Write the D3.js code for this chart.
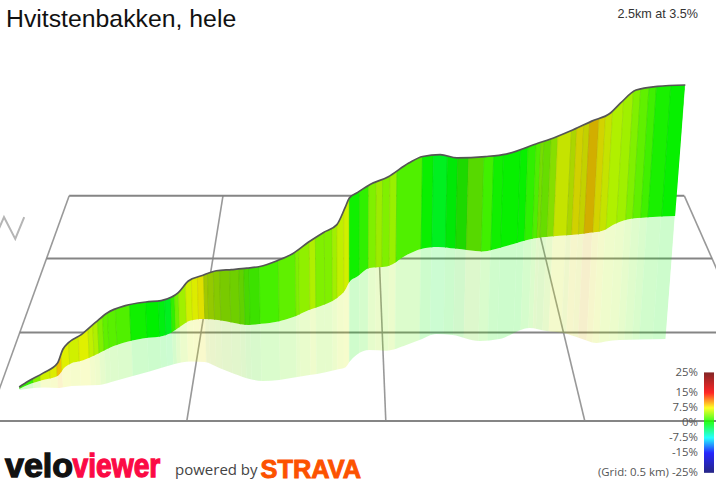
<!DOCTYPE html>
<html>
<head>
<meta charset="utf-8">
<title>Hvitstenbakken, hele</title>
<script src="https://cdn.jsdelivr.net/npm/d3@7"></script>
<style>
  html, body { margin: 0; padding: 0; background: #fff; }
  svg { display: block; }
</style>
</head>
<body>
<svg id="chart" width="716" height="480"></svg>
<script>
// Route stations: distance along the climb, ground position (km) and wall heights (m)
const distanceKm = [0,.039,.097,.155,.178,.201,.252,.310,.356,.426,.503,.561,.600,.627,.666,.716,.774,.832,.890,.940,1.006,1.064,1.122,1.180,1.231,1.262,1.277,1.304,1.355,1.420,1.498,1.548,1.614,1.676,1.780,1.858,1.974,2.039,2.101,2.167,2.233,2.268,2.322,2.399,2.5];
const routeEast = [-.847,-.823,-.784,-.745,-.730,-.715,-.682,-.643,-.614,-.570,-.520,-.483,-.457,-.440,-.413,-.378,-.336,-.294,-.253,-.219,-.175,-.136,-.096,-.057,-.023,-.002,.009,.028,.063,.109,.164,.201,.249,.293,.365,.420,.509,.554,.597,.640,.683,.709,.748,.803,.875];
const routeNorth = [.165,.173,.179,.176,.181,.187,.189,.192,.209,.237,.268,.294,.311,.320,.326,.323,.288,.254,.226,.215,.220,.234,.248,.263,.280,.291,.323,.364,.394,.390,.424,.454,.491,.485,.448,.460,.529,.510,.498,.466,.436,.445,.454,.457,.460];
const wallBase = [.6,2.5,4.8,7.9,12.0,14.0,15.9,19.7,21.7,22.6,21.7,20.1,21.2,23.1,26.5,28.0,31.0,33.0,34.5,36.4,37.4,38.7,41.7,43.6,46.2,50.1,52.1,51.1,54.1,55.5,59.9,60.7,58.4,57.9,59.6,61.4,60.4,63.6,65.6,69.9,74.7,77.5,80.3,81.5,82.1];
const wallTop = [1.9,4.7,9.2,15.8,23.8,27.5,32.2,39.8,44.0,45.7,44.8,43.0,43.5,45.5,52.4,56.1,62.9,67.1,70.8,73.0,76.2,79.2,85.2,90.1,93.5,103.4,106.7,106.2,109.1,114.4,120.6,122.3,120.3,118.7,122.8,123.4,124.7,130.6,136.4,144.9,152.8,158.7,166.6,168.8,169.5];

// Gradient bands: where each band ends (km) and its grade (%)
const bandEndKm = [.056,.084,.123,.151,.170,.201,.240,.279,.298,.317,.337,.356,.387,.441,.501,.550,.573,.596,.611,.627,.654,.677,.700,.724,.739,.762,.786,.824,.859,.878,.898,.937,1.010,1.074,1.087,1.126,1.149,1.183,1.213,1.231,1.257,1.277,1.315,1.350,1.378,1.401,1.428,1.454,1.548,1.589,1.641,1.679,1.719,1.775,1.812,1.849,1.912,1.939,1.969,1.986,1.997,2.023,2.047,2.096,2.115,2.140,2.161,2.194,2.217,2.242,2.280,2.314,2.340,2.370,2.397,2.449,2.5];
const bandGrade = [1.5,4,6.5,7,9,7,6.5,7,6,5.5,4,3,2.8,2.5,.5,0,-.5,-1,1.5,3.5,5,6.5,7,7.5,6,5.5,5,4.5,4,3.5,2.5,2,2.2,3,4,4.5,5.5,4,4,5,6,6.5,.5,1.5,4,5,4,4.8,2.5,.3,-1,-.2,1,3,2,.5,.2,.2,1.5,2.5,4,3.5,4.5,6.5,6,7.5,7,8.8,7.5,6.5,5.5,5,4,3,2,.8,.2];

// Ground grid (km) and the north marker lying on it
const gridEast = [-.9,-.4,.1,.6,1.1];
const gridNorth = [0,.5,1,1.5];
const northMarkEast = [-1.082,-1.082,-1.018,-1.018];
const northMarkNorth = [1.148,1.322,1.148,1.322];

// Colour key
const keyGrades = [25,15,7.5,0,-7.5,-15,-25];
const keyLabels = ["25%","15%","7.5%","0%","-7.5%","-15%","(Grid: 0.5 km) -25%"];
const rampGrades = [-25,-15,-7.5,0,7.5,15,25];
const rampColors = ["#000070","#0000ff","#00ffff","#00ff00","#ffff00","#ff0000","#700000"];

const svg = d3.select("#chart");
const gradeColor = d3.scaleLinear().domain(rampGrades).range(rampColors).clamp(true);

// Perspective camera: ground plane recedes towards a horizon above the page
const eastScale = d3.scaleLinear().domain([0, 1]).range([0, 398]);
const depth = north => 1 + .196 * north;
const groundX = (east, north) => 346 + eastScale(east) / depth(north);
const groundY = north => -570 + 991 / depth(north);
const heightScale = d3.scaleLinear().domain([0, 1]).range([0, 1.634]);
const poleLean = .000248;

// Lift a ground position by a height; poles lean outward from the image centre
function lift(east, north, metres) {
  const gx = groundX(east, north), gy = groundY(north);
  const h = heightScale(metres) / depth(north);
  return { x: gx + (gx - 350) * poleLean * h, y: gy - h };
}

const stations = distanceKm.map((km, i) => ({
  km,
  ground: lift(routeEast[i], routeNorth[i], 0),
  base: lift(routeEast[i], routeNorth[i], wallBase[i]),
  top: lift(routeEast[i], routeNorth[i], wallTop[i]),
  north: routeNorth[i]
}));

// Piecewise lookups along the route for the gradient bands
const along = accessor => d3.scaleLinear().domain(distanceKm).range(stations.map(accessor));
const gx = along(d => d.ground.x), gy = along(d => d.ground.y);
const bx = along(d => d.base.x), by = along(d => d.base.y);
const tx = along(d => d.top.x), ty = along(d => d.top.y);
const northAt = along(d => d.north);

const defs = svg.append("defs");
const ribbon = (lo, hi) => d3.area()
  .x0(d => d[lo].x).y0(d => d[lo].y)
  .x1(d => d[hi].x).y1(d => d[hi].y)
  .curve(d3.curveMonotoneX)(stations);
defs.append("clipPath").attr("id", "wallClip").append("path").attr("d", ribbon("base", "top"));
defs.append("clipPath").attr("id", "paleClip").append("path").attr("d", ribbon("ground", "base"));

// Ground grid
const gridG = svg.append("g").attr("fill", "none");
const rearNorth = d3.max(gridNorth);
gridEast.forEach(e => {
  gridG.append("line")
    .attr("x1", groundX(e, 0)).attr("y1", groundY(0))
    .attr("x2", groundX(e, rearNorth)).attr("y2", groundY(rearNorth))
    .attr("stroke", "#999").attr("stroke-width", 1.6);
});
gridNorth.forEach(n => {
  gridG.append("line")
    .attr("x1", groundX(gridEast[0], n)).attr("y1", groundY(n))
    .attr("x2", groundX(gridEast[gridEast.length - 1], n)).attr("y2", groundY(n))
    .attr("stroke", "#858585").attr("stroke-width", 2);
});
gridG.append("path")
  .attr("d", d3.line()(northMarkEast.map((e, i) => [groundX(e, northMarkNorth[i]), groundY(northMarkNorth[i])])))
  .attr("stroke", "#b5b5b5").attr("stroke-width", 2);

// Gradient bands, darker where the road turns back towards the viewer
const bands = bandEndKm.map((end, i) => {
  const start = i ? bandEndKm[i - 1] : 0;
  const slope = (northAt(end) - northAt(start)) / (end - start);
  const shade = .94 + .25 * Math.max(-.6, Math.min(0, slope));
  const c = d3.rgb(gradeColor(bandGrade[i]));
  return { start, end, fill: d3.rgb(c.r * shade, c.g * shade, c.b * shade).formatRgb() };
});

const bandPath = (d, x0, y0, x1, y1) => {
  const pad = 7;
  return d3.line()([
    [x0(d.start), y0(d.start) + pad], [x1(d.start), y1(d.start) - pad],
    [x1(d.end), y1(d.end) - pad], [x0(d.end), y0(d.end) + pad]
  ]) + "Z";
};

svg.append("g").attr("clip-path", "url(#paleClip)").attr("opacity", .2)
  .selectAll("path").data(bands).join("path")
  .attr("d", d => bandPath(d, gx, gy, bx, by))
  .attr("fill", d => d.fill).attr("stroke", d => d.fill).attr("stroke-width", .4);

svg.append("g").attr("clip-path", "url(#wallClip)")
  .selectAll("path").data(bands).join("path")
  .attr("d", d => bandPath(d, bx, by, tx, ty))
  .attr("fill", d => d.fill)
  .attr("stroke", d => d3.rgb(d.fill).darker(.25).formatRgb()).attr("stroke-width", .6);

// Profile outline along the top of the wall
svg.append("path")
  .attr("d", d3.line().x(d => d.top.x).y(d => d.top.y).curve(d3.curveMonotoneX)(stations))
  .attr("fill", "none").attr("stroke", "#555").attr("stroke-width", 1.7);

// Colour key
const keyY = d3.scaleLinear().domain([-25, 25]).range([472, 372]);
svg.append("g").selectAll("rect").data(d3.range(-25, 25, .5)).join("rect")
  .attr("x", 704).attr("width", 10)
  .attr("y", d => keyY(d + .5) + .5).attr("height", 1.2)
  .attr("fill", d => gradeColor(d + .25));
svg.append("g").attr("font-family", "'Open Sans', sans-serif").attr("font-size", 11.4)
  .attr("fill", "#555").attr("text-anchor", "end")
  .selectAll("text").data(keyGrades).join("text")
  .attr("x", 698).attr("y", d => keyY(d) + 4)
  .text((d, i) => keyLabels[i]);

// Heading and summary
svg.append("text").attr("x", 6).attr("y", 27)
  .attr("font-family", "'Liberation Sans', Arial, sans-serif").attr("font-size", 24.8)
  .attr("fill", "#111").text("Hvitstenbakken, hele");
svg.append("text").attr("x", 698).attr("y", 18).attr("text-anchor", "end")
  .attr("font-family", "'Liberation Sans', Arial, sans-serif").attr("font-size", 12.6)
  .attr("fill", "#333").text("2.5km at 3.5%");

// Footer wordmarks
const wordmark = svg.append("g")
  .attr("font-family", "'Liberation Sans', Arial, sans-serif").attr("font-weight", 700)
  .attr("font-size", 34).attr("stroke-width", 1.3);
wordmark.append("text").attr("transform", "translate(5,476.5)")
  .attr("fill", "#111").attr("stroke", "#111").text("velo");
wordmark.append("text").attr("transform", "translate(72.5,476.5) scale(.83,1)")
  .attr("fill", "#fb0a45").attr("stroke", "#fb0a45").text("viewer");
svg.append("text").attr("x", 175).attr("y", 475)
  .attr("font-family", "'Open Sans', sans-serif").attr("font-size", 15)
  .attr("fill", "#444").text("powered by");
svg.append("text").attr("x", 260.5).attr("y", 478)
  .attr("font-family", "'Liberation Sans', Arial, sans-serif").attr("font-weight", 700)
  .attr("font-size", 25.4).attr("fill", "#fc5200").attr("stroke", "#fc5200").attr("stroke-width", .9)
  .text("STRAVA");
</script>
</body>
</html>
